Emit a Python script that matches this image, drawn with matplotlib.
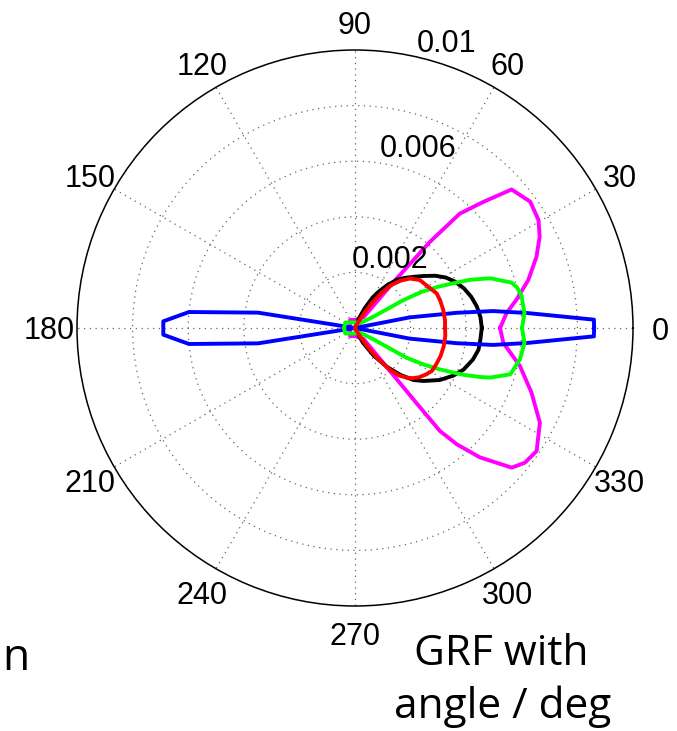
import numpy as np
import matplotlib
matplotlib.use("Agg")
import matplotlib.pyplot as plt

# polar GRF curves, angle in degrees, radius in data units (axis max 0.01)
blue_ang = [0, 2, 5, 7, 8.5, 11, 90, 171, 174.5, 178, 182, 185.5, 189, 270,
            349, 351.5, 353, 355, 358, 360]
blue_r = [0.0086, 0.0086, 0.0062, 0.0050, 0.0037, 0.0020, 0, 0.00353, 0.0060,
          0.0069, 0.0069, 0.0060, 0.00353, 0, 0.0020, 0.0037, 0.0050, 0.0062,
          0.0086, 0.0086]

black_ang = [0, 5, 10, 15, 20, 25, 29, 33, 37, 41, 45, 49, 53, 57, 60, 64, 68,
             180, 294, 298.5, 304, 309.3, 314, 318.3, 322.2, 328.5, 334, 339,
             345, 350, 355, 360]
black_r = [0.00456, 0.00453, 0.00445, 0.00433, 0.00417, 0.00396, 0.00374,
           0.00345, 0.00311, 0.00281, 0.00255, 0.00230, 0.00194, 0.00155,
           0.00126, 0.00079, 0.00036, 0, 0.00022, 0.00061, 0.00119, 0.00180,
           0.00234, 0.00281, 0.00311, 0.00358, 0.00392, 0.00418, 0.00439,
           0.00451, 0.00453, 0.00456]

red_ang = [0, 5, 11.5, 18, 23, 29.5, 36.5, 42, 46, 50, 53, 56, 59, 62, 180,
           301, 304, 307, 310, 313, 316, 319, 322.5, 327, 331, 336, 342, 348.5,
           355, 360]
red_r = [0.00324, 0.00325, 0.00324, 0.00322, 0.00319, 0.00302, 0.00290,
         0.00266, 0.00237, 0.00201, 0.00158, 0.00108, 0.00054, 0.00011, 0,
         0.00036, 0.00090, 0.00144, 0.00198, 0.00234, 0.00257, 0.00275,
         0.00291, 0.00306, 0.00317, 0.00320, 0.00324, 0.00326, 0.00326,
         0.00324]

green_ang = [0, 5, 11, 14, 16.2, 20.2, 22.7, 24.5, 26.5, 28.5, 30, 31.5, 40,
             150, 180, 210, 320, 328.3, 330, 332, 334, 336.5, 338.5, 339.8,
             343.4, 349.3, 355, 360]
green_r = [0.00601, 0.00612, 0.00610, 0.00601, 0.00586, 0.00518, 0.00450,
           0.00388, 0.00331, 0.00270, 0.00198, 0.00079, 0.00030, 0.00040,
           0.00040, 0.00040, 0.00030, 0.00077, 0.00214, 0.00280, 0.00340,
           0.00420, 0.00480, 0.00517, 0.00583, 0.00604, 0.00612, 0.00601]

magenta_ang = [0, 5.5, 10, 15.5, 21.4, 26.3, 30.5, 35.8, 41.5, 44.5, 47.5, 49,
               50, 51.5, 90, 122, 238, 270, 308, 309.3, 309.5, 311.2, 314,
               318.3, 321.6, 325.9, 332.9, 339.9, 347, 354.3, 360]
magenta_r = [0.00522, 0.00547, 0.00590, 0.00647, 0.00701, 0.00741, 0.00766,
             0.00777, 0.00752, 0.00647, 0.00558, 0.00410, 0.00216, 0.00050,
             0.00029, 0.00034, 0.00034, 0.00029, 0.00050, 0.00349, 0.00480,
             0.00556, 0.00647, 0.00755, 0.00780, 0.00789, 0.00747, 0.00676,
             0.00609, 0.00536, 0.00522]

theta_ticks = [0, 30, 60, 90, 120, 150, 180, 210, 240, 270, 300, 330]
ring_values = [0.002, 0.004, 0.006, 0.008]
ring_labels = ["0.002", "0.006", "0.01"]
ring_label_pos = [(93.2, 0.00215), (81.7, 0.00622), (77.4, 0.01019)]

RMAX = 0.01
TICK_FONT = "Liberation Sans"

fig = plt.figure(figsize=(6.77, 7.31), dpi=100)
ax = fig.add_axes([77 / 677, 125 / 731, 556 / 677, 556 / 731], projection="polar")
ax.set_ylim(0, RMAX)

# dotted MATLAB-like grid
ax.set_rgrids(ring_values, labels=[""] * len(ring_values))
ax.set_thetagrids(theta_ticks, labels=[""] * len(theta_ticks))
ax.grid(True, color="0.4", linestyle=(0, (1, 3.6)), linewidth=0.9)
ax.tick_params(length=0)
ax.spines["polar"].set_linewidth(1.1)
ax.spines["polar"].set_color("black")

series = [(magenta_ang, magenta_r, "#ff00ff"),
          (black_ang, black_r, "black"),
          (blue_ang, blue_r, "#0000ff"),
          (green_ang, green_r, "#00ff00"),
          (red_ang, red_r, "#ff0000")]
for ang, r, col in series:
    ax.plot(np.deg2rad(ang), r, color=col, linewidth=2.8, solid_joinstyle="round")

for t in theta_ticks:
    ax.text(np.deg2rad(t), RMAX * 1.1, str(t), ha="center", va="center_baseline",
            fontsize=22, family=TICK_FONT, clip_on=False)

for lab, (t, r) in zip(ring_labels, ring_label_pos):
    ax.text(np.deg2rad(t), r, lab, ha="left", va="baseline", fontsize=22,
            family=TICK_FONT, clip_on=False)

fig.text(501 / 677, 1 - 665 / 731, "GRF with", ha="center", va="baseline",
         fontsize=30.5, family="Open Sans")
fig.text(503 / 677, 1 - 718 / 731, "angle / deg", ha="center", va="baseline",
         fontsize=30.5, family="Open Sans")
fig.text(2 / 677, 1 - 670 / 731, "n", ha="left", va="baseline",
         fontsize=32, family="Open Sans")

fig.savefig("out.png", dpi=100)
